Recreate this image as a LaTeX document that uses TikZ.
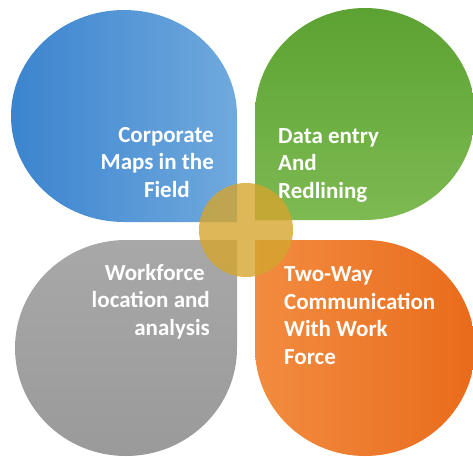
\documentclass[tikz,border=0pt]{standalone}
\usepackage{fontspec}
\setmainfont{Carlito}
\definecolor{blueL}{HTML}{3B84CF}
\definecolor{blueR}{HTML}{70A9DD}
\definecolor{greenT}{HTML}{5CA232}
\definecolor{greenB}{HTML}{7DBA52}
\definecolor{grayT}{HTML}{A8A8A8}
\definecolor{grayB}{HTML}{9A9A9A}
\definecolor{orangeL}{HTML}{F28C40}
\definecolor{orangeR}{HTML}{E96B1B}
\definecolor{plusgold}{HTML}{D4A52E}
\tikzset{
  petal/.style   = {draw=none},
  bluepetal/.style   = {petal, left color=blueL, right color=blueR},
  greenpetal/.style  = {petal, top color=greenT, bottom color=greenB},
  graypetal/.style   = {petal, top color=grayT, bottom color=grayB},
  orangepetal/.style = {petal, left color=orangeL, right color=orangeR},
  caption/.style = {text=white, inner sep=0pt,
                    font=\bfseries\fontsize{23}{27.5}\selectfont},
  hub/.style     = {circle, fill=plusgold, opacity=0.8,
                    minimum size=94pt, inner sep=0pt}
}
\begin{document}
\begin{tikzpicture}[x=1pt,y=1pt]
  \useasboundingbox (0,0) rectangle (473,456);

  \path[bluepetal] (237,234) -- (237,340)
    arc[start angle=0, end angle=270, x radius=113, y radius=106] -- cycle;
  \path[greenpetal] (255,236) -- (255,342)
    arc[start angle=180, end angle=-90, x radius=110, y radius=106] -- cycle;
  \path[graypetal] (237,216) -- (126,216)
    arc[start angle=90, end angle=360, x radius=111, y radius=108] -- cycle;
  \path[orangepetal] (255,216) -- (255,108)
    arc[start angle=180, end angle=450, x radius=110, y radius=108] -- cycle;

  \node[caption, align=right, anchor=base east] (maps) at (214,259)
    {Corporate\\Maps in the\\Field\hspace*{24pt}};
  \node[caption, align=left, anchor=base west] (entry) at (278,258)
    {Data entry\\And\\Redlining};
  \node[caption, align=right, anchor=base east] (workforce) at (210,121)
    {Workforce\hspace*{5pt}\\location and\\analysis};
  \node[caption, align=left, anchor=base west] (twoway) at (284,92)
    {Two-Way\\Communication\\With Work\\Force};

  \node[hub] (plus) at (246,226) {};
\end{tikzpicture}
\end{document}
